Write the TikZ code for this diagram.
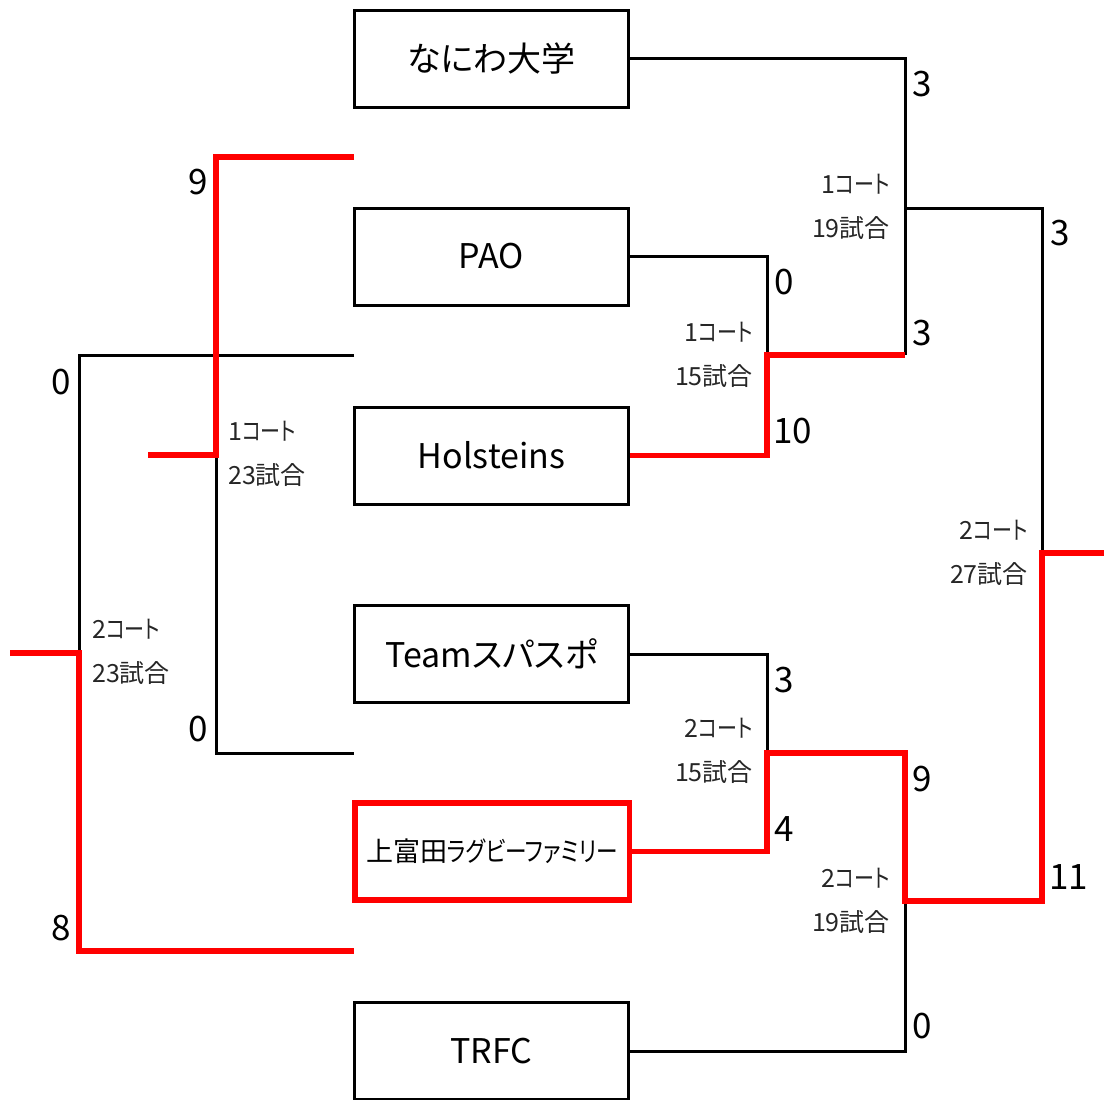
\documentclass[tikz,border=0pt]{standalone}
\usepackage{fontspec}
\setmainfont{Noto Sans CJK JP}[RawFeature=+palt]
\newfontfamily\narrowkana{Noto Sans CJK JP}[RawFeature=+palt,FakeStretch=0.8]
\newcommand{\nk}[1]{{\narrowkana #1}}
\begin{document}
\begin{tikzpicture}[x=1pt,y=-1pt,line join=miter,
  team/.style={draw=black, line width=3pt, minimum width=274.5pt, minimum height=97pt, inner sep=0pt, text=black, font=\fontsize{34}{40}\selectfont},
  champ/.style={team, draw=red, line width=5.5pt, font=\fontsize{27}{30}\selectfont},
  lose/.style={draw=black, line width=3pt},
  win/.style={draw=red, line width=5.5pt},
  score/.style={inner sep=0pt, text=black, font=\fontsize{35}{40}\selectfont},
  info/.style={inner sep=0pt, text=black!85, font=\fontsize{25}{44}\selectfont}
]
\useasboundingbox (0,0) rectangle (1104,1100);
\fill[white] (0,0) rectangle (1104,1100);

% teams
\node[team]  (t1) at (491.5,58.5)  {なにわ大学};
\node[team]  (t2) at (491.5,256.5) {PAO};
\node[team]  (t3) at (491.5,455.5) {Holsteins};
\node[team]  (t4) at (491.5,654)   {Teamスパスポ};
\node[champ] (t5) at (492,851.5)   {上富田\nk{ラグビーファミリー}};
\node[team]  (t6) at (491.5,1051)  {TRFC};

% junction coordinates (right side)
\coordinate (m15a) at (767,355);
\coordinate (m19a) at (905,208);
\coordinate (m15b) at (767,753);
\coordinate (m19b) at (905,901);
\coordinate (m27)  at (1042,553);
\coordinate (final) at (1104,553);

% left side coordinates
\coordinate (l9)   at (354,157);
\coordinate (l0a)  at (354,355);
\coordinate (l0b)  at (354,753);
\coordinate (l8)   at (354,951);
\coordinate (m23a) at (216,455);
\coordinate (m23aout) at (148,455);
\coordinate (m23b) at (79,653);
\coordinate (m23bout) at (10,653);

% black (losing) lines
\draw[lose] (t1.east) -| (m19a) -- (m19a |- m15a);
\draw[lose] (t2.east) -| (m15a);
\draw[lose] (m19a) -| (m27);
\draw[lose] (t4.east) -| (m15b);
\draw[lose] (t6.east) -| (m19b);
\draw[lose] (m23a) |- (l0b);
\draw[lose] (l0a) -| (m23b);

% red (winning) lines
\draw[win] (t3.east) -| (m15a) -- (m19a |- m15a);
\draw[win] (t5.east) -| (m15b) -| (m19b) -| (m27) -- (final);
\draw[win] (l9) -| (m23a) -- (m23aout);
\draw[win] (m23bout) -- (m23b) |- (l8);

% scores
\node[score,anchor=west] (s1) at (912,84)    {3};
\node[score,anchor=west] (s2) at (912,333)   {3};
\node[score,anchor=west] (s3) at (1050,233)  {3};
\node[score,anchor=west] (s4) at (1049,877.5){11};
\node[score,anchor=west] (s5) at (774,282.5) {0};
\node[score,anchor=west] (s6) at (773,431)   {10};
\node[score,anchor=west] (s7) at (774,680)   {3};
\node[score,anchor=west] (s8) at (774,829)   {4};
\node[score,anchor=west] (s9) at (912,779)   {9};
\node[score,anchor=west] (s10) at (912,1026) {0};
\node[score,anchor=east] (s11) at (208,182.5) {9};
\node[score,anchor=east] (s12) at (208,729)   {0};
\node[score,anchor=east] (s13) at (71,382.5)  {0};
\node[score,anchor=east] (s14) at (71,928)    {8};

% match info
\node[info,anchor=east,align=right] (i1) at (890,207)  {1\nk{コート}\\19試合};
\node[info,anchor=east,align=right] (i2) at (753,355)  {1\nk{コート}\\15試合};
\node[info,anchor=east,align=right] (i3) at (1028,553) {2\nk{コート}\\27試合};
\node[info,anchor=east,align=right] (i4) at (753,751)  {2\nk{コート}\\15試合};
\node[info,anchor=east,align=right] (i5) at (890,900.5){2\nk{コート}\\19試合};
\node[info,anchor=west,align=left]  (i6) at (228,453.5){1\nk{コート}\\23試合};
\node[info,anchor=west,align=left]  (i7) at (92,652)   {2\nk{コート}\\23試合};
\end{tikzpicture}
\end{document}
